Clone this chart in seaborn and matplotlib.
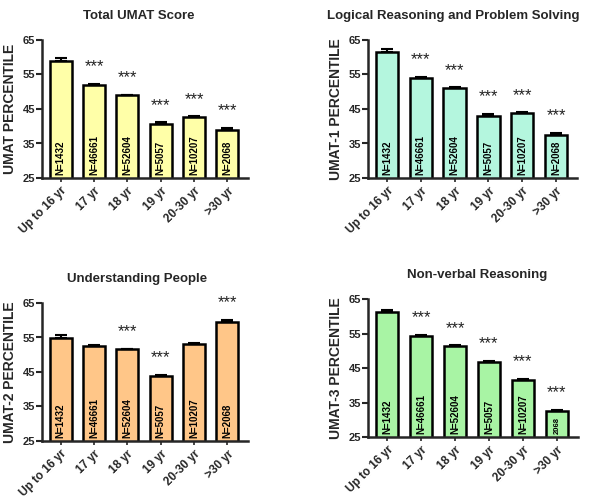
import numpy as np
import pandas as pd
import matplotlib
matplotlib.use("Agg")
import matplotlib.pyplot as plt
import seaborn as sns

ages = ["Up to 16 yr", "17 yr", "18 yr", "19 yr", "20-30 yr", ">30 yr"]
n_labels = ["N=1432", "N=46661", "N=52604", "N=5057", "N=10207", "N=2068"]
n_labels_nv = ["N=1432", "N=46661", "N=52604", "N=5057", "N=10207", "2068"]

total_mean = [59.0, 52.0, 49.0, 40.7, 42.6, 39.0]
total_err = [0.8, 0.15, 0.15, 0.4, 0.25, 0.6]
logic_mean = [61.6, 54.1, 51.1, 43.1, 43.7, 37.4]
logic_err = [0.7, 0.15, 0.15, 0.35, 0.3, 0.6]
people_mean = [54.9, 52.6, 51.6, 43.7, 53.0, 59.6]
people_err = [0.7, 0.15, 0.15, 0.35, 0.3, 0.6]
nonverbal_mean = [61.1, 54.4, 51.4, 46.8, 41.6, 32.4]
nonverbal_err = [0.7, 0.15, 0.15, 0.35, 0.3, 0.5]

total_sig = [False, True, True, True, True, True]
logic_sig = [False, True, True, True, True, True]
people_sig = [False, False, True, True, False, True]
nonverbal_sig = [False, True, True, True, True, True]

panels = [
    ("Total UMAT Score", "UMAT PERCENTILE", total_mean, total_err, total_sig, n_labels, "#FFFFA8"),
    ("Logical Reasoning and Problem Solving", "UMAT-1 PERCENTILE", logic_mean, logic_err, logic_sig, n_labels, "#B4F6DE"),
    ("Understanding People", "UMAT-2 PERCENTILE", people_mean, people_err, people_sig, n_labels, "#FFC688"),
    ("Non-verbal Reasoning", "UMAT-3 PERCENTILE", nonverbal_mean, nonverbal_err, nonverbal_sig, n_labels_nv, "#A8F4A4"),
]

sns.set_theme(style="ticks")
plt.rcParams['font.family'] = ['Liberation Sans', 'DejaVu Sans']

W, H = 600, 498
fig = plt.figure(figsize=(6, 4.98), dpi=100)

# axes boxes in pixels: left, top, right, bottom, title centre x (axes fraction)
boxes = [(42, 40, 248, 178, 0.47), (368, 40, 577, 178, 0.41),
         (42, 303, 248, 441, 0.46), (368, 299, 578, 437, 0.52)]

for (title, ylabel, mean, err, sig, nl, color), (l, t, r, b, tx) in zip(panels, boxes):
    ax = fig.add_axes([l / W, 1 - b / H, (r - l) / W, (b - t) / H])
    df = pd.DataFrame({"age": ages, "value": mean})
    sns.barplot(data=df, x="age", y="value", color=color, saturation=1, width=0.66,
                edgecolor="black", linewidth=1.8, ax=ax, errorbar=None)
    ax.errorbar(np.arange(len(ages)), mean, yerr=[np.zeros(len(err)), err], fmt="none",
                ecolor="black", elinewidth=1.5, capsize=4, capthick=1.5, zorder=3)
    for i, (m, e, s, lab) in enumerate(zip(mean, err, sig, nl)):
        if s:
            ax.text(i, m + e + 5.0, "***", ha="center", va="center", fontsize=12, color="#222222")
        fs = 7 if lab.startswith("N") else 5.5
        ax.text(i, 26.0, lab, rotation=90, ha="center", va="bottom", fontsize=fs,
                fontweight="bold", color="black")
    ax.set_ylim(25, 65)
    ax.set_xlim(-0.56, 5.62)
    ax.set_yticks([25, 35, 45, 55, 65])
    ax.set_xlabel("")
    ax.set_ylabel(ylabel, fontsize=10, fontweight="bold", labelpad=4)
    ax.set_title(title, fontsize=9.5, fontweight="bold", pad=15, x=tx)
    ax.set_xticks(range(len(ages)))
    ax.set_xticklabels(ages, rotation=45, ha="right", rotation_mode="anchor",
                       fontsize=8.5, fontweight="bold")
    for lab in ax.get_yticklabels():
        lab.set_fontweight("bold")
        lab.set_fontsize(8)
    ax.tick_params(axis="y", length=4, width=1.5, pad=1)
    ax.tick_params(axis="x", length=3, width=1.2, pad=2)
    sns.despine(ax=ax)
    ax.spines["left"].set_linewidth(1.8)
    ax.spines["bottom"].set_linewidth(1.8)

fig.savefig("out.png", dpi=100)
